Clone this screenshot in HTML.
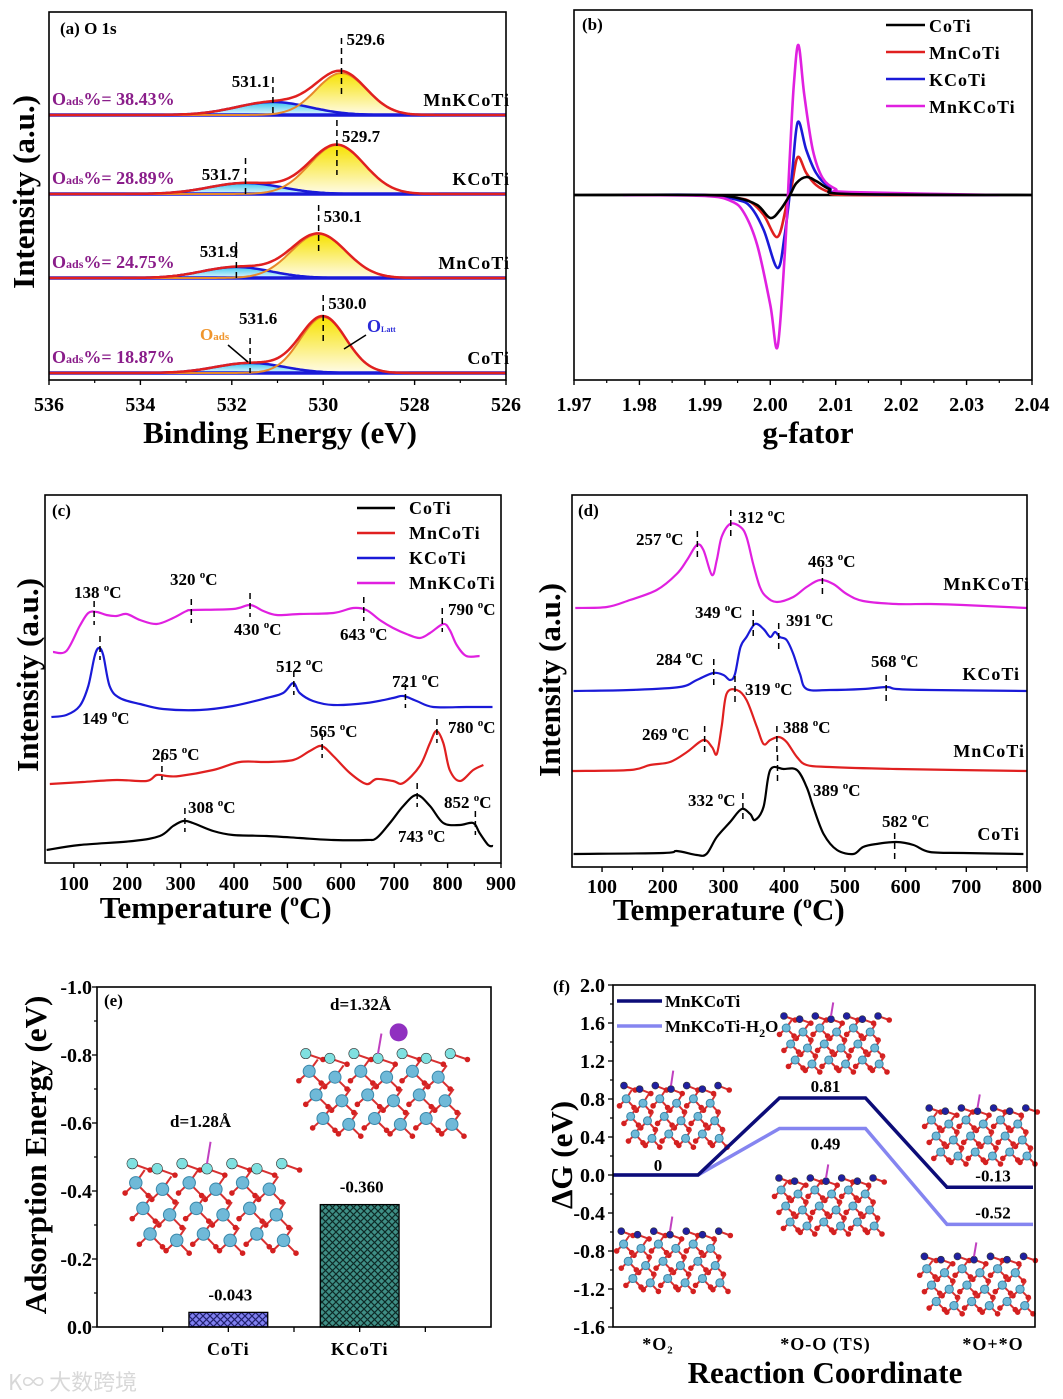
<!DOCTYPE html>
<html><head><meta charset="utf-8">
<style>
html,body{margin:0;padding:0;background:#fff;}
svg{display:block;font-family:"Liberation Serif","Noto Serif CJK SC",serif;}
.tk{font-size:20px;font-weight:bold;fill:#000;}
.tt{font-size:31px;font-weight:bold;fill:#000;}
.lb{font-size:17px;font-weight:bold;fill:#000;}
.sm{font-size:18px;font-weight:bold;fill:#000;letter-spacing:1px;}
</style></head>
<body>
<svg id="fig" width="1063" height="1399" viewBox="0 0 1063 1399" xmlns="http://www.w3.org/2000/svg">
<defs>
<linearGradient id="gy" x1="0" y1="0" x2="0" y2="1"><stop offset="0" stop-color="#f7e200"/><stop offset="1" stop-color="#fffbe8"/></linearGradient>
<linearGradient id="gc" x1="0" y1="0" x2="0" y2="1"><stop offset="0" stop-color="#39c4ee"/><stop offset="1" stop-color="#e6f9ff"/></linearGradient>
<pattern id="hatchB" width="7" height="7" patternUnits="userSpaceOnUse"><rect width="7" height="7" fill="#8080f0"/><path d="M0,0L7,7M7,0L0,7" stroke="#202070" stroke-width="1.2"/></pattern>
<pattern id="hatchG" width="7" height="7" patternUnits="userSpaceOnUse"><rect width="7" height="7" fill="#3f8f86"/><path d="M0,0L7,7M7,0L0,7" stroke="#0d2a26" stroke-width="1.2"/></pattern>
</defs>
<g id="root"></g>
</svg>
<script>
// ---------- Panel (a) XPS data ----------
const xpsSamples = ['MnKCoTi','KCoTi','MnCoTi','CoTi'];
const xpsLatCenter = [529.6, 529.7, 530.1, 530.0];
const xpsLatHeight = [42, 49, 44, 56];
const xpsLatSigma = [0.55, 0.6, 0.6, 0.5];
const xpsAdsCenter = [531.1, 531.7, 531.9, 531.6];
const xpsAdsHeight = [13, 11, 11, 10];
const xpsAdsSigma = [0.8, 0.8, 0.75, 0.75];
const xpsOffset = [258, 179, 95, 0];
const xpsOads = ['38.43%','28.89%','24.75%','18.87%'];
const xpsTicks = [536,534,532,530,528,526];

// ---------- Panel (b) EPR data ----------
const eprNames = ['CoTi','MnCoTi','KCoTi','MnKCoTi'];
const eprCoTiG = [1.97,1.99,1.995,1.998,2.000,2.0015,2.003,2.004,2.0055,2.007,2.009,2.012,2.04];
const eprCoTiI = [0,0,-3,-10,-23,-15,0,12,18,14,6,1,0];
const eprMnCoTiG = [1.9775,1.99,1.995,1.997,1.999,2.0011,2.0025,2.0033,2.0042,2.0055,2.007,2.009,2.012,2.035];
const eprMnCoTiI = [0,0,-3,-7,-20,-42,-10,10,38,22,10,3,0,0];
const eprKCoTiG = [1.9775,1.99,1.995,1.997,1.999,2.0011,2.0022,2.0033,2.0042,2.0055,2.007,2.009,2.012,2.035];
const eprKCoTiI = [0,0,-5,-12,-35,-73,-40,20,73,45,22,8,1,0];
const eprMnKCoTiG = [1.9775,1.99,1.994,1.996,1.998,2.0,2.0011,2.0022,2.003,2.0036,2.0043,2.0052,2.0065,2.008,2.010,2.012,2.035];
const eprMnKCoTiI = [0,-1,-6,-18,-50,-110,-152,-60,40,110,150,100,45,17,6,3,0];
const eprTicks = [1.97,1.98,1.99,2.00,2.01,2.02,2.03,2.04];

// ---------- Panel (c) TPD data ----------
const tpcMnKT = [61,86,111,127,143,161,180,199,224,255,286,311,323,398,430,455,480,523,586,623,648,673,698,723,748,767,792,804,817,835,860];
const tpcMnKI = [211,212,237,250,251,248,247,249,243,239,245,252,253,254,258,252,248,249,250,255,253,243,235,229,225,230,239,233,218,207,207];
const tpcKT = [58,86,111,127,139,147,155,167,186,224,267,336,398,461,492,511,523,548,586,648,698,717,742,773,835,884];
const tpcKI = [146,148,157,177,207,215,208,177,165,159,154,153,157,165,170,180,170,162,158,160,165,167,162,156,156,156];
const tpcMnT = [55,117,180,236,255,274,298,361,411,461,511,542,564,586,617,648,667,698,717,748,767,779,792,804,823,848,867];
const tpcMnI = [79,81,83,82,88,87,87,93,101,101,103,112,117,107,90,79,84,82,80,97,120,132,120,93,82,93,98];
const tpcCoT = [49,111,211,261,286,305,323,361,398,461,523,586,648,667,692,717,742,767,792,823,848,860,876,885];
const tpcCoI = [13,18,22,27,37,42,40,32,28,27,25,23,23,25,40,57,68,57,40,38,40,30,18,17];
const tpcTicks = [100,200,300,400,500,600,700,800,900];

// ---------- Panel (d) TPR data ----------
const tpdMnKT = [56,108,146,190,223,240,256,267,281,289,297,311,328,338,349,360,371,388,415,437,459,481,503,530,585,640,695,800];
const tpdMnKI = [259,260,267,277,293,307,322,317,292,307,330,343,340,330,303,280,270,265,270,280,287,283,273,266,263,263,262,259];
const tpdKT = [53,146,228,256,283,300,311,319,328,338,352,366,377,385,393,404,415,426,437,475,530,569,585,640,800];
const tpdKI = [176,177,180,187,194,192,187,193,220,230,243,238,230,235,230,227,213,193,178,177,178,180,178,177,176];
const tpdMnT = [51,146,179,212,240,267,281,289,297,305,322,338,355,366,377,391,404,421,437,475,585,800];
const tpdMnI = [96,97,102,105,115,127,120,113,140,173,177,167,140,123,127,130,125,110,102,100,98,96];
const tpdCoT = [53,201,223,256,272,289,311,330,344,352,366,377,399,421,437,448,465,487,514,530,552,585,613,640,695,794];
const tpdCoI = [13,14,16,12,13,30,45,58,53,47,60,97,98,97,80,60,33,17,13,20,23,25,22,15,14,13];
const tpdTicks = [100,200,300,400,500,600,700,800];

// ---------- Panel (e) bars ----------
const adsCats = ['CoTi','KCoTi'];
const adsVals = [-0.043,-0.360];
const adsLabels = ['-0.043','-0.360'];
const adsTicks = [-1.0,-0.8,-0.6,-0.4,-0.2,0.0];

// ---------- Panel (f) energy profile ----------
const rxStates = ['*O\u2082','*O-O (TS)','*O+*O'];
const rxMnK = [0,0.81,-0.13];
const rxH2O = [0,0.49,-0.52];
const rxLabelMnK = ['0','0.81','-0.13'];
const rxLabelH2O = ['','0.49','-0.52'];
const rxTicks = [2.0,1.6,1.2,0.8,0.4,0.0,-0.4,-0.8,-1.2,-1.6];

const NS='http://www.w3.org/2000/svg';
const root=document.getElementById('root');
function el(tag,attrs,parent,text){const e=document.createElementNS(NS,tag);for(const k in attrs)e.setAttribute(k,attrs[k]);if(text!==undefined)e.textContent=text;(parent||root).appendChild(e);return e;}
function lin(d0,d1,r0,r1){return v=>r0+(v-d0)*(r1-r0)/(d1-d0);}
function smooth(p){let d='M'+p[0][0].toFixed(1)+','+p[0][1].toFixed(1);for(let i=0;i<p.length-1;i++){const p0=p[i-1]||p[i],p1=p[i],p2=p[i+1],p3=p[i+2]||p2;const c1=[p1[0]+(p2[0]-p0[0])/6,p1[1]+(p2[1]-p0[1])/6],c2=[p2[0]-(p3[0]-p1[0])/6,p2[1]-(p3[1]-p1[1])/6];d+='C'+c1[0].toFixed(1)+','+c1[1].toFixed(1)+' '+c2[0].toFixed(1)+','+c2[1].toFixed(1)+' '+p2[0].toFixed(1)+','+p2[1].toFixed(1);}return d;}
function frame(g,x0,y0,x1,y1){const r=el('rect',{x:x0,y:y0,width:x1-x0,height:y1-y0,fill:'none',stroke:'#000','stroke-width':1.6},g);}
function txt(g,x,y,s,cls,anchor,name,extra){const t=el('text',Object.assign({x:x,y:y,class:cls,'text-anchor':anchor||'start'},extra||{}),g,s);return t;}
function xticks(g,vals,sx,y,labelY,fmt,name){vals.forEach((v,i)=>{const x=sx(v);el('line',{x1:x,y1:y,x2:x,y2:y+5,stroke:'#000','stroke-width':1.4},g);if(i<vals.length-1){const xm=(x+sx(vals[i+1]))/2;el('line',{x1:xm,y1:y,x2:xm,y2:y+3,stroke:'#000','stroke-width':1.2},g);}txt(g,x,labelY,fmt(v),'tk','middle',name);});}
function dash(g,x,y0,y1){el('line',{x1:x,y1:y0,x2:x,y2:y1,stroke:'#000','stroke-width':1.5,'stroke-dasharray':'6,4'},g);}
function degLabel(g,x,y,num,name,anchor){const t=el('text',{x:x,y:y,class:'lb','text-anchor':anchor||'start'},g);el('tspan',{},t,num+' ');el('tspan',{dy:-7,'font-size':11},t,'o');el('tspan',{dy:7},t,'C');}

function cluster(g,x0,y0,w,h,top,kAtom){
  const cg=el('g',{},g);
  const cols=6,rows=3;
  for(let r=0;r<rows;r++)for(let c=0;c<cols;c++){
    const bx=x0+w*0.1+c*w*0.15+r*w*0.04, by=y0+h*0.35+r*h*0.2+(c%2)*h*0.05;
    el('line',{x1:bx,y1:by,x2:bx+w*0.07,y2:by+h*0.1,stroke:'#d83030','stroke-width':2},cg);
    el('line',{x1:bx,y1:by,x2:bx-w*0.06,y2:by+h*0.08,stroke:'#d83030','stroke-width':2},cg);
    el('line',{x1:bx,y1:by,x2:bx+w*0.05,y2:by-h*0.1,stroke:'#d83030','stroke-width':2},cg);
    el('circle',{cx:bx+w*0.07,cy:by+h*0.1,r:2.8,fill:'#d42020'},cg);
    el('circle',{cx:bx-w*0.06,cy:by+h*0.08,r:2.8,fill:'#d42020'},cg);
    el('circle',{cx:bx,cy:by,r:Math.max(4,w*0.035),fill:'#6fb9d8',stroke:'#3a88aa','stroke-width':1},cg);
  }
  for(let c=0;c<7;c++){
    const bx=x0+w*0.08+c*w*0.14, by=y0+h*0.2+(c%2)*h*0.04;
    el('line',{x1:bx,y1:by,x2:bx+w*0.1,y2:by+h*0.05,stroke:'#d83030','stroke-width':2},cg);
    el('circle',{cx:bx+w*0.1,cy:by+h*0.05,r:2.8,fill:'#d42020'},cg);
    el('circle',{cx:bx,cy:by,r:Math.max(3.5,w*0.03),fill:top,stroke:'#333','stroke-width':0.6},cg);
  }
  el('line',{x1:x0+w*0.5,y1:y0+h*0.2,x2:x0+w*0.52,y2:y0+h*0.03,stroke:'#c040c0','stroke-width':2},cg);
  if(kAtom)el('circle',{cx:x0+w*0.62,cy:y0+h*0.02,r:9,fill:'#9030c0'},cg);
}

// ================= Panel (a) =================
(function(){
 const g=el('g',{});
 const X0=49,X1=506,Y0=12,Y1=380;const sx=lin(536,526,X0,X1);
 const base=373; const sy=v=>base-v;
 const latLabelY=[45,142,222,309], latDash=[[38,95],[120,175],[205,255],[295,345]];
 const adsLabel=[[270,87,'end'],[240,180,'end'],[238,257,'end'],[239,324,'start']];
 xpsSamples.forEach((s,i)=>{
  const off=xpsOffset[i];const lat=[],ads=[],env=[];
  for(let e=536;e>=525.99;e-=0.05){const L=xpsLatHeight[i]*Math.exp(-Math.pow(e-xpsLatCenter[i],2)/(2*xpsLatSigma[i]*xpsLatSigma[i]));const A=xpsAdsHeight[i]*Math.exp(-Math.pow(e-xpsAdsCenter[i],2)/(2*xpsAdsSigma[i]*xpsAdsSigma[i]));lat.push([sx(e),sy(off+L)]);ads.push([sx(e),sy(off+A)]);env.push([sx(e),sy(off+L+A)]);}
  const by=sy(off);
  const pl=a=>a.map(p=>p[0].toFixed(1)+','+p[1].toFixed(1)).join(' ');
  const f1=el('polygon',{points:pl(lat)+' '+X1+','+by+' '+X0+','+by,fill:'url(#gy)'},g);
  const f2=el('polygon',{points:pl(ads)+' '+X1+','+by+' '+X0+','+by,fill:'url(#gc)'},g);
  el('line',{x1:X0,y1:by,x2:X1,y2:by,stroke:'#1a1ad8','stroke-width':3.5},g);
  const a2=el('polyline',{points:pl(ads),fill:'none',stroke:'#1a1ad8','stroke-width':2.5},g);
  const a1=el('polyline',{points:pl(lat),fill:'none',stroke:'#e8882a','stroke-width':2},g);
  const a3=el('polyline',{points:pl(env),fill:'none',stroke:'#e02020','stroke-width':2.5},g);
  dash(g,sx(xpsLatCenter[i]),latDash[i][0],latDash[i][1]);
  dash(g,sx(xpsAdsCenter[i]),sy(off+xpsAdsHeight[i])-25,by);
  txt(g,sx(xpsLatCenter[i])+5,latLabelY[i],xpsLatCenter[i].toFixed(1),'lb','start','peak-label-lattice-'+s.toLowerCase());
  txt(g,adsLabel[i][0],adsLabel[i][1],xpsAdsCenter[i].toFixed(1),'lb',adsLabel[i][2],'peak-label-ads-'+s.toLowerCase());
  const t=el('text',{x:52,y:by-10,'font-size':18,'font-weight':'bold',fill:'#8a1d8a'},g);
  el('tspan',{},t,'O');el('tspan',{'font-size':12},t,'ads');el('tspan',{},t,'%= '+xpsOads[i]);
  txt(g,510,by-9,s,'sm','end','sample-label-'+s.toLowerCase());
 });
 frame(g,X0,Y0,X1,Y1);
 xticks(g,xpsTicks,sx,Y1,411,v=>v,'x-tick-label');
 txt(g,60,34,'(a) O 1s','lb','start','panel-a-label',{'font-size':19});
 const o1=el('text',{x:200,y:340,'font-size':17,'font-weight':'bold',fill:'#f0952c'},g);el('tspan',{},o1,'O');el('tspan',{'font-size':11},o1,'ads');
 const o2=el('text',{x:367,y:332,'font-size':18,'font-weight':'bold',fill:'#2a2ad8'},g);el('tspan',{},o2,'O');el('tspan',{'font-size':8},o2,'Latt');
 el('line',{x1:228,y1:345,x2:248,y2:362,stroke:'#000','stroke-width':1.5},g);
 el('line',{x1:366,y1:335,x2:344,y2:349,stroke:'#000','stroke-width':1.5},g);
 txt(g,280,443,'Binding Energy (eV)','tt','middle','x-axis-title-a');
 txt(g,0,0,'Intensity (a.u.)','tt','middle','y-axis-title-a',{transform:'translate(34,192) rotate(-90)'});
})();

// ================= Panel (b) =================
(function(){
 const g=el('g',{});
 const X0=574,X1=1032,Y0=10,Y1=380;const sx=lin(1.97,2.04,X0,X1);const sy=v=>195-v;
 el('line',{x1:X0,y1:195,x2:X1,y2:195,stroke:'#000','stroke-width':2.5},g);
 const series=[[eprCoTiG,eprCoTiI,'#000'],[eprMnCoTiG,eprMnCoTiI,'#e02020'],[eprKCoTiG,eprKCoTiI,'#1a1ad8'],[eprMnKCoTiG,eprMnKCoTiI,'#e020e0']];
 [1,2,3,0].forEach(i=>{const [G,I,c]=series[i];const p=el('path',{d:smooth(G.map((v,k)=>[sx(v),sy(I[k])])),fill:'none',stroke:c,'stroke-width':2.6},g);});
 frame(g,X0,Y0,X1,Y1);
 xticks(g,eprTicks,sx,Y1,411,v=>v.toFixed(2),'x-tick-label');
 txt(g,582,30,'(b)','lb','start','panel-b-label',{'font-size':19});
 eprNames.forEach((n,i)=>{const y=25+i*27;const l=el('line',{x1:886,y1:y,x2:925,y2:y,stroke:series[i][2],'stroke-width':2.5},g);txt(g,929,y+7,n,'sm','start','legend-entry-'+n.toLowerCase());});
 txt(g,808,443,'g-fator','tt','middle','x-axis-title-b');
})();

// ================= Panel (c) =================
(function(){
 const g=el('g',{});
 const X0=45,X1=501,Y0=495,Y1=863;const sx=lin(46,900,X0,X1);const sy=v=>Y1-v;
 const S=[[tpcCoT,tpcCoI,'#000','coti'],[tpcMnT,tpcMnI,'#e02020','mncoti'],[tpcKT,tpcKI,'#1a1ad8','kcoti'],[tpcMnKT,tpcMnKI,'#e020e0','mnkcoti']];
 S.forEach(s=>{const p=el('path',{d:smooth(s[0].map((v,k)=>[sx(v),sy(s[1][k])])),fill:'none',stroke:s[2],'stroke-width':2.2},g);});
 frame(g,X0,Y0,X1,Y1);
 xticks(g,tpcTicks,sx,Y1,890,v=>v,'x-tick-label');
 txt(g,52,516,'(c)','lb','start','panel-c-label',{'font-size':19});
 ['CoTi','MnCoTi','KCoTi','MnKCoTi'].forEach((n,i)=>{const y=508+i*25;const l=el('line',{x1:357,y1:y,x2:395,y2:y,stroke:S[i][2],'stroke-width':2.5},g);txt(g,409,y+6,n,'sm','start','legend-entry-'+n.toLowerCase());});
 const marks=[[138,250,74,598],[320,252,170,585],[430,258,234,635],[643,254,340,640],[790,243,448,615],[149,215,82,724],[512,180,276,672],[721,167,392,687],[265,95,152,760],[565,117,310,737],[780,132,448,733],[308,43,188,813],[852,40,444,808],[743,68,398,842]];
 marks.forEach(m=>{const x=sx(m[0]);dash(g,x,sy(m[1])-12,sy(m[1])+12);degLabel(g,m[2],m[3],m[0],'peak-label-'+m[0]);});
 txt(g,290,918,'Temperature (','tt','end','x-axis-title-c');
 const t=el('text',{x:290,y:918,class:'tt'},g);el('tspan',{dy:-12,'font-size':18},t,'o');el('tspan',{dy:12},t,'C)');
 txt(g,0,0,'Intensity (a.u.)','tt','middle','y-axis-title-c',{transform:'translate(38,675) rotate(-90)'});
})();

// ================= Panel (d) =================
(function(){
 const g=el('g',{});
 const X0=572,X1=1027,Y0=495,Y1=867;const sx=lin(50.5,800,X0,X1);const sy=v=>Y1-v;
 const S=[[tpdCoT,tpdCoI,'#000','coti'],[tpdMnT,tpdMnI,'#e02020','mncoti'],[tpdKT,tpdKI,'#1a1ad8','kcoti'],[tpdMnKT,tpdMnKI,'#e020e0','mnkcoti']];
 S.forEach(s=>{const p=el('path',{d:smooth(s[0].map((v,k)=>[sx(v),sy(s[1][k])])),fill:'none',stroke:s[2],'stroke-width':2.2},g);});
 frame(g,X0,Y0,X1,Y1);
 xticks(g,tpdTicks,sx,Y1,893,v=>v,'x-tick-label');
 txt(g,578,516,'(d)','lb','start','panel-d-label',{'font-size':19});
 const marks=[[257,322,636,545],[312,343,738,523],[463,285,808,567],[349,243,695,618],[391,230,786,626],[284,194,656,665],[568,178,871,667],[319,177,745,695],[269,127,642,740],[388,127,783,733],[332,60,688,806],[389,98,813,796],[582,20,882,827]];
 marks.forEach(m=>{const x=sx(m[0]);dash(g,x,sy(m[1])-14,sy(m[1])+14);degLabel(g,m[2],m[3],m[0],'peak-label-'+m[0]);});
 [['MnKCoTi',1030,590],['KCoTi',1020,680],['MnCoTi',1025,757],['CoTi',1020,840]].forEach(s=>txt(g,s[1],s[2],s[0],'sm','end','sample-label-'+s[0].toLowerCase()));
 txt(g,803,920,'Temperature (','tt','end','x-axis-title-d');
 const t=el('text',{x:803,y:920,class:'tt'},g);el('tspan',{dy:-12,'font-size':18},t,'o');el('tspan',{dy:12},t,'C)');
 txt(g,0,0,'Intensity (a.u.)','tt','middle','y-axis-title-d',{transform:'translate(560,680) rotate(-90)'});
})();

// ================= Panel (e) =================
(function(){
 const g=el('g',{});
 const X0=97,X1=491,Y0=987,Y1=1327;const sx=lin(0,3,X0,X1);const sy=lin(0,-1,Y1,Y0);
 cluster(g,118,1138,178,128,'#7fe0e0',false);
 cluster(g,292,1030,172,118,'#7fe0e0',true);
 const fills=['url(#hatchB)','url(#hatchG)'];
 adsCats.forEach((c,i)=>{const x=sx(i+1);const b=el('rect',{x:x-sx(0.3)+X0,y:sy(adsVals[i]),width:2*(sx(0.3)-X0),height:Y1-sy(adsVals[i]),fill:fills[i],stroke:'#000','stroke-width':1.3},g);
  txt(g,x+2,sy(adsVals[i])-12,adsLabels[i],'lb','middle','bar-value-'+c.toLowerCase(),{'font-size':18});
  txt(g,x,1355,c,'sm','middle','x-category-'+c.toLowerCase());});
 frame(g,X0,Y0,X1,Y1);
 [0.5,1,1.5,2,2.5].forEach(v=>el('line',{x1:sx(v),y1:Y1,x2:sx(v),y2:Y1+5,stroke:'#000','stroke-width':1.3},g));
 adsTicks.forEach((v,i)=>{const y=sy(v);el('line',{x1:X0,y1:y,x2:X0-5,y2:y,stroke:'#000','stroke-width':1.3},g);if(i<adsTicks.length-1)el('line',{x1:X0,y1:(y+sy(adsTicks[i+1]))/2,x2:X0-3,y2:(y+sy(adsTicks[i+1]))/2,stroke:'#000','stroke-width':1.2},g);txt(g,92,y+7,v.toFixed(1),'tk','end','y-tick-label');});
 txt(g,104,1006,'(e)','lb','start','panel-e-label',{'font-size':19});
 txt(g,170,1127,'d=1.28Å','lb','start','bond-length-coti');
 txt(g,330,1010,'d=1.32Å','lb','start','bond-length-kcoti');
 txt(g,0,0,'Adsorption Energy (eV)','tt','middle','y-axis-title-e',{transform:'translate(46,1155) rotate(-90)'});
 const w=el('text',{x:8,y:1390,'font-size':22,fill:'#d8d8d8','font-family':'"Noto Sans CJK SC",sans-serif'},g,'K∞ 大数跨境');
})();

// ================= Panel (f) =================
(function(){
 const g=el('g',{});
 const X0=613,X1=1035,Y0=985,Y1=1327;const sx=lin(0,2,655,990);const sy=lin(2,-1.6,Y0,Y1);const hw=43;
 cluster(g,615,1068,112,88,'#2020a0',false);
 cluster(g,612,1214,116,86,'#2020a0',false);
 cluster(g,775,1000,112,80,'#2020a0',false);
 cluster(g,770,1162,112,80,'#2020a0',false);
 cluster(g,920,1092,115,80,'#2020a0',false);
 cluster(g,915,1240,118,82,'#2020a0',false);
 function profile(vals,color,name){const pts=[];vals.forEach((v,i)=>{pts.push([Math.max(X0,sx(i)-hw),sy(v)]);pts.push([Math.min(X1,sx(i)+hw),sy(v)]);});const p=el('polyline',{points:pts.map(q=>q[0].toFixed(1)+','+q[1].toFixed(1)).join(' '),fill:'none',stroke:color,'stroke-width':3.5},g);}
 profile(rxH2O,'#8585f0','profile-mnkcoti-h2o');
 profile(rxMnK,'#0c0c78','profile-mnkcoti');
 rxLabelMnK.forEach((s,i)=>{if(s)txt(g,sx(i)+3,sy(rxMnK[i])-(i===0?4:6),s,'lb','middle','energy-label-mnkcoti-'+i);});
 rxLabelH2O.forEach((s,i)=>{if(s)txt(g,sx(i)+3,sy(rxH2O[i])+(i===1?21:-6),s,'lb','middle','energy-label-h2o-'+i);});
 frame(g,X0,Y0,X1,Y1);
 rxTicks.forEach((v,i)=>{const y=sy(v);el('line',{x1:X0,y1:y,x2:X0-5,y2:y,stroke:'#000','stroke-width':1.3},g);if(i<rxTicks.length-1)el('line',{x1:X0,y1:(y+sy(rxTicks[i+1]))/2,x2:X0-3,y2:(y+sy(rxTicks[i+1]))/2,stroke:'#000','stroke-width':1.2},g);txt(g,605,y+7,v.toFixed(1),'tk','end','y-tick-label');});
 rxStates.forEach((s,i)=>txt(g,sx(i)+3,1350,s,'sm','middle','x-category-'+i));
 txt(g,553,992,'(f)','lb','start','panel-f-label',{'font-size':19});
 const l1=el('line',{x1:617,y1:1001,x2:662,y2:1001,stroke:'#0c0c78','stroke-width':3.5},g);
 txt(g,665,1007,'MnKCoTi','lb','start','legend-entry-mnkcoti');
 const l2=el('line',{x1:617,y1:1026,x2:662,y2:1026,stroke:'#8585f0','stroke-width':3.5},g);
 const t=el('text',{x:665,y:1032,class:'lb'},g);el('tspan',{},t,'MnKCoTi-H');el('tspan',{dy:5,'font-size':12},t,'2');el('tspan',{dy:-5},t,'O');
 txt(g,825,1383,'Reaction Coordinate','tt','middle','x-axis-title-f');
 txt(g,0,0,'ΔG (eV)','tt','middle','y-axis-title-f',{transform:'translate(572,1155) rotate(-90)'});
})();
</script>
</body></html>
